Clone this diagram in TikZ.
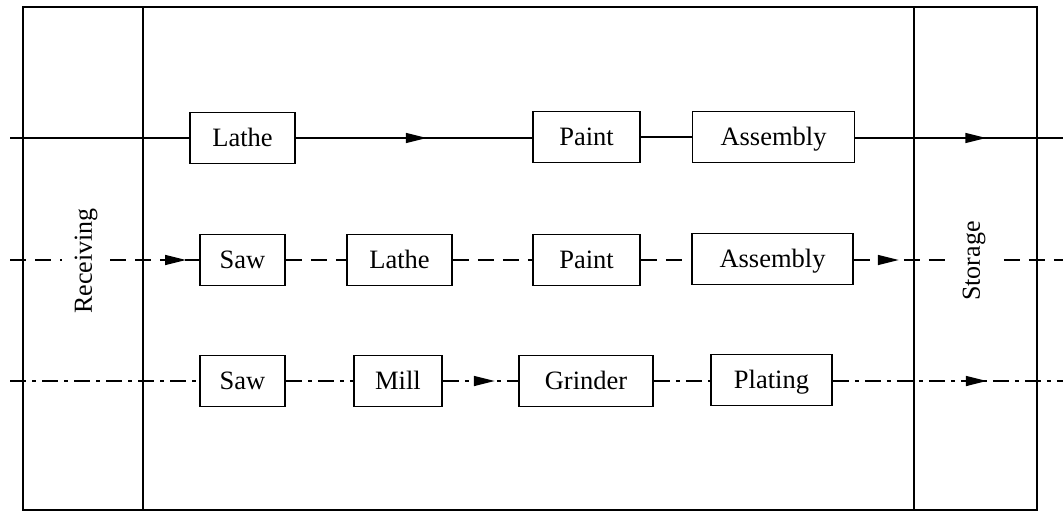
\documentclass[tikz,border=0pt]{standalone}
\usepackage{fontspec}
\setmainfont{Liberation Serif}
\usetikzlibrary{arrows.meta,decorations.markings}
\begin{document}
\begin{tikzpicture}[x=1pt,y=-1pt,
  stage/.style={draw, line width=1.6pt, inner sep=0pt, minimum height=51pt,
    text height=18pt, text depth=1pt,
    font=\fontsize{26.5}{30}\selectfont},
  flow/.style={line width=1.6pt},
  solidflow/.style={flow},
  dashflow/.style={flow, dash pattern=on 16pt off 9pt},
  dotflow/.style={flow, dash pattern=on 16pt off 6pt on 4pt off 6pt},
  tipat/.style={postaction={decorate}, decoration={markings,
    mark=at position #1 with {\arrow{Triangle[length=21pt,width=10pt]}}}},
  area/.style={line width=1.7pt},
  zone/.style={rotate=90, fill=white, inner xsep=2pt, inner ysep=13pt,
    font=\fontsize{26}{30}\selectfont}]
\useasboundingbox (0,0) rectangle (1063,512);

% plant outline and the receiving / storage areas
\draw[area] (23,7) rectangle (1037,510);
\draw[area] (143,7) -- (143,510);
\draw[area] (914,7) -- (914,510);

% work stations, one row per route
\node[stage, minimum width=105pt] (lathe1) at (242.5,138) {Lathe};
\node[stage, minimum width=107pt] (paint1) at (586.5,137) {Paint};
\node[stage, minimum width=162pt] (asm1)   at (773.5,137) {Assembly};

\node[stage, minimum width=85pt]  (saw2)   at (242.5,260) {Saw};
\node[stage, minimum width=105pt] (lathe2) at (399.5,260) {Lathe};
\node[stage, minimum width=107pt] (paint2) at (586.5,260) {Paint};
\node[stage, minimum width=161pt] (asm2)   at (772.5,259) {Assembly};

\node[stage, minimum width=85pt]  (saw3)   at (242.5,381) {Saw};
\node[stage, minimum width=88pt]  (mill3)  at (398,381)   {Mill};
\node[stage, minimum width=134pt] (grind3) at (586,381)   {Grinder};
\node[stage, minimum width=121pt] (plate3) at (771.5,380) {Plating};

% free ends of the routes
\coordinate (in1)  at (10,138);
\coordinate (out1) at (1063,138);
\coordinate (in2)  at (10,260);
\coordinate (out2) at (1063,260);
\coordinate (in3)  at (10,381);
\coordinate (out3) at (1063,381);

% route 1 (solid)
\draw[solidflow] (in1) -- (lathe1.west);
\draw[solidflow, tipat=131pt] (lathe1.east) -- (paint1.west |- lathe1.east);
\draw[solidflow] (paint1.east) -- (asm1.west);
\draw[solidflow, tipat=131pt] (asm1.east |- in1) -- (out1);

% route 2 (dashed)
\draw[dashflow, tipat=176pt] (in2) -- (saw2.west);
\draw[dashflow] (saw2.east) -- (lathe2.west);
\draw[dashflow] (lathe2.east) -- (paint2.west);
\draw[dashflow] (paint2.east) -- (asm2.west |- paint2.east);
\draw[dashflow, tipat=45pt] (asm2.east |- in2) -- (out2);

% route 3 (dash-dot)
\draw[dotflow] (in3) -- (saw3.west);
\draw[dotflow] (saw3.east) -- (mill3.west);
\draw[dotflow, tipat=52pt] (mill3.east) -- (grind3.west);
\draw[dotflow] (grind3.east) -- (plate3.west |- grind3.east);
\draw[dotflow, tipat=154pt] (plate3.east |- in3) -- (out3);

% area labels
\node[zone] (recv) at (86,261) {Receiving};
\node[zone] (stor) at (974,261) {Storage};
\end{tikzpicture}
\end{document}
